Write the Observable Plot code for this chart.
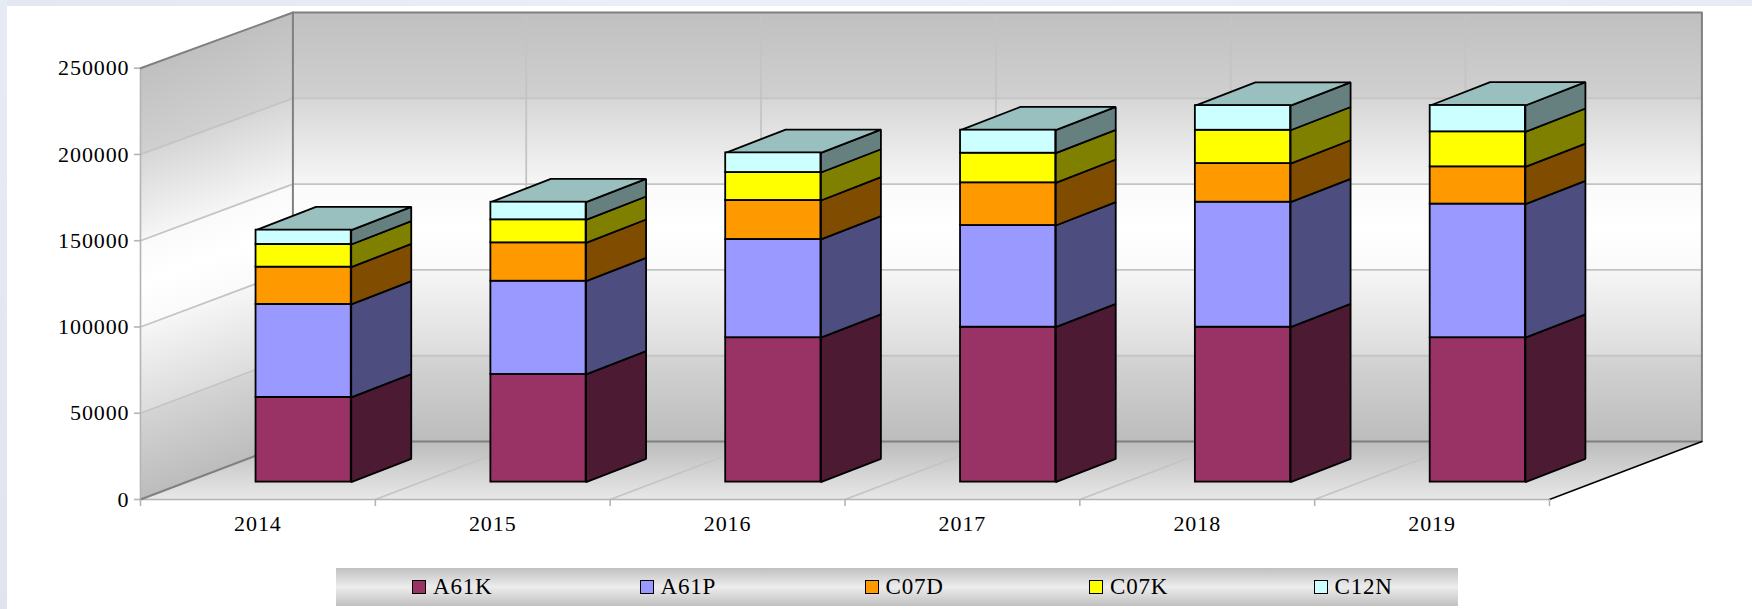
<!DOCTYPE html>
<html>
<head>
<meta charset="utf-8">
<script src="https://cdn.jsdelivr.net/npm/d3@7"></script>
<script src="https://cdn.jsdelivr.net/npm/@observablehq/plot@0.6"></script>
<style>
html,body{margin:0;padding:0;background:#fff;width:1752px;height:609px;overflow:hidden;font-family:"Liberation Serif",serif;}
#wrap{position:relative;width:1752px;height:609px;}
#top{position:absolute;left:0;top:0;width:1752px;height:6px;background:linear-gradient(90deg,#e3e7f1,#eaeff9 40%,#e6ebf5);}
#left{position:absolute;left:0;top:0;width:7px;height:609px;background:linear-gradient(180deg,#e6ebf5,#e0e4ef);}
#legend{position:absolute;left:336px;top:568px;width:1122px;height:38px;box-sizing:border-box;padding-left:76px;display:flex;align-items:center;
 background:linear-gradient(180deg,#c0c0c0,#ededed 50%,#c0c0c0);font-size:23px;letter-spacing:.8px;color:#000;}
#legend .it{width:224.5px;display:flex;align-items:center;flex:none;}
#legend .it:first-child{width:227.5px;}
#legend .it:nth-child(2){width:225px;}
#legend .sw{width:12px;height:12px;border:1.5px solid #000;margin-right:7px;flex:none;}
svg text{letter-spacing:.9px;}
</style>
</head>
<body>
<div id="wrap"><div id="chart"></div><div id="top"></div><div id="left"></div><div id="legend"></div></div>
<script>
const years = ["2014","2015","2016","2017","2018","2019"];
const seriesNames = ["A61K","A61P","C07D","C07K","C12N"];
const A61K = [49100,62400,83700,89800,89800,83700];
const A61P = [53900,54050,56950,58950,72450,77450];
const C07D = [21600,22250,22600,24750,22400,21600];
const C07K = [13150,13350,16200,17150,19300,20300];
const C12N = [ 8300,10200,11400,13350,14300,15250];
const seriesValues = [A61K,A61P,C07D,C07K,C12N];
const frontColors = ["#993366","#9999ff","#ff9900","#ffff00","#ccffff"];
const sideColors  = ["#4d1a33","#4d4d80","#804d00","#808000","#668080"];
const topColor = "#99bfbf";
const yTicks = [0,50000,100000,150000,200000,250000];

// oblique depth of the 3-D box, in data units per unit of depth
const DX = 0.649, DV = 33600, shrink = 0.0053;
const P = (cat, val, depth) => ({x: cat + depth*DX, y: val*(1 - shrink*depth) + depth*DV});
const maxV = 250000, nCat = years.length;
const poly = (id, pts) => pts.map(p => ({id, ...P(...p)}));

// bars: front face at depth 0.3, sides run back by a fixed oblique offset
const barHalf = 0.2027, d0 = 0.3, barDX = 0.2555, barDV = 13500;
const front = (cat, val) => ({x: cat + d0*DX, y: val + d0*DV});
const back  = (cat, val) => { const f = front(cat,val); return {x: f.x + barDX, y: f.y + barDV}; };
const fronts = [], sides = seriesNames.map(() => []), tops = [];
years.forEach((yr, i) => {
  let base = 0;
  const xa = i + 0.5 - barHalf, xb = i + 0.5 + barHalf;
  seriesNames.forEach((s, k) => {
    const next = base + seriesValues[k][i];
    const f0 = front(xa, base), f1 = front(xb, next);
    fronts.push({series: s, x1: f0.x, x2: f1.x, y1: f0.y, y2: f1.y});
    const id = yr + s;
    sides[k].push(...[front(xb,base), back(xb,base), back(xb,next), front(xb,next)].map(p => ({id, ...p})));
    base = next;
  });
  tops.push(...[front(xa,base), back(xa,base), back(xb,base), front(xb,base)].map(p => ({id: yr, ...p})));
});

const backWall = poly("b", [[0,0,1],[nCat,0,1],[nCat,maxV,1],[0,maxV,1]]);
const sideWall = poly("s", [[0,0,0],[0,0,1],[0,maxV,1],[0,maxV,0]]);
const floorP   = poly("f", [[0,0,0],[nCat,0,0],[nCat,0,1],[0,0,1]]);

const grid = [];
yTicks.slice(1,-1).forEach(v => grid.push(...poly("h"+v, [[0,v,0],[0,v,1],[nCat,v,1]])));
d3.range(1,nCat).forEach(c => grid.push(...poly("v"+c, [[c,0,0],[c,0,0.99],[c,maxV,0.99]])));

const frame = [
  ...poly("a",[[0,maxV,0],[0,maxV,1],[nCat,maxV,1],[nCat,0,1],[0,0,1],[0,0,0]]),
  ...poly("c",[[0,maxV,1],[0,0,1]])
];
const edge = poly("e",[[nCat,0,0],[nCat,0,1]]);
const frontAxis = poly("x",[[0,maxV,0],[0,0,0],[nCat,0,0]]);

// the walls shade band by band: a small step in tone sits under each gridline
const wallStops = [[0,"#c0c0c0"],[.2,"#d0d0d0"],[.2,"#d6d6d6"],[.4,"#f6f6f6"],[.4,"#fafafa"],[.5,"#ffffff"],
  [.6,"#fafafa"],[.6,"#f6f6f6"],[.8,"#dcdcdc"],[.8,"#d4d4d4"],[1,"#bcbcbc"]];

const defsMark = (index, {x, y}) => {
  const defs = d3.create("svg:defs");
  const stops = (g, list) => list.forEach(([o,c]) => g.append("stop").attr("offset",o).attr("stop-color",c));
  const w1 = defs.append("linearGradient").attr("id","wallBack").attr("x1",0).attr("y1",0).attr("x2",0).attr("y2",1);
  stops(w1, wallStops);
  // side wall: isolines run parallel to the wall's slanted gridlines
  const a = P(0,maxV,0), b = P(0,0,0), c = P(0,maxV,1);
  const ax = x(a.x), ay = y(a.y), by = y(b.y), sx = x(c.x)-ax, sy = y(c.y)-ay;
  const len = Math.hypot(sx,sy), nx = -sy/len, ny = sx/len, dist = (by-ay)*ny;
  const w2 = defs.append("linearGradient").attr("id","wallSide").attr("gradientUnits","userSpaceOnUse")
    .attr("x1",ax).attr("y1",ay).attr("x2",ax+nx*dist).attr("y2",ay+ny*dist);
  stops(w2, wallStops);
  const fl = defs.append("linearGradient").attr("id","floorG").attr("x1",0).attr("y1",0).attr("x2",0).attr("y2",1);
  stops(fl,[[0,"#bcbcbc"],[1,"#e8e8e8"]]);
  return defs.node();
};

const closed = {x:"x", y:"y", z:"id", curve:"linear-closed"};
const open = {x:"x", y:"y", z:"id", curve:"linear"};

const chart = Plot.plot({
  width: 1752, height: 568,
  marginLeft: 140, marginRight: 203, marginTop: 67.7, marginBottom: 69,
  style: {fontFamily: '"Liberation Serif", serif', fontSize: "22px", overflow: "visible"},
  x: {type:"linear", domain:[0,nCat]},
  y: {type:"linear", domain:[0,maxV]},
  color: {domain: seriesNames, range: frontColors},
  marks: [
    defsMark,
    Plot.line(sideWall, {...closed, fill:"url(#wallSide)", stroke:"none"}),
    Plot.line(backWall, {...closed, fill:"url(#wallBack)", stroke:"none"}),
    Plot.line(floorP,   {...closed, fill:"url(#floorG)", stroke:"none"}),
    Plot.line(grid,  {...open, stroke:"#c4c4c4", strokeWidth:1.8}),
    Plot.line(frontAxis, {...open, stroke:"#b4b4b4", strokeWidth:1.6}),
    Plot.line(frame, {...open, stroke:"#808080", strokeWidth:2}),
    Plot.line(edge,  {...open, stroke:"#000", strokeWidth:1.6}),
    Plot.axisY({ticks: yTicks, tickFormat: d3.format("d"), tickSize: 6, tickPadding: 5, label: null,
      stroke:"#b4b4b4", fill:"#000", strokeWidth:1.6}),
    Plot.axisX({ticks: d3.range(0,nCat+1), tickFormat: () => "", tickSize: 7, label: null,
      stroke:"#b4b4b4", strokeWidth:1.6}),
    Plot.axisX({ticks: d3.range(0,nCat).map(i => i+0.5), tickFormat: v => years[v-0.5], tickSize: 0, tickPadding: 16, label: null,
      fill:"#000"}),
    ...sides.map((d,k) => Plot.line(d, {...closed, fill: sideColors[k], stroke:"#000", strokeWidth:1.8, strokeLinejoin:"miter"})),
    Plot.line(tops, {...closed, fill: topColor, stroke:"#000", strokeWidth:1.8, strokeLinejoin:"miter"}),
    Plot.rect(fronts, {x1:"x1", x2:"x2", y1:"y1", y2:"y2", fill:"series", stroke:"#000", strokeWidth:1.8})
  ]
});
document.getElementById("chart").appendChild(chart);

const lg = d3.select("#legend");
seriesNames.forEach((s,k) => {
  const it = lg.append("div").attr("class","it");
  it.append("span").attr("class","sw").style("background",frontColors[k]);
  it.append("span").text(s);
});
</script>
</body>
</html>
